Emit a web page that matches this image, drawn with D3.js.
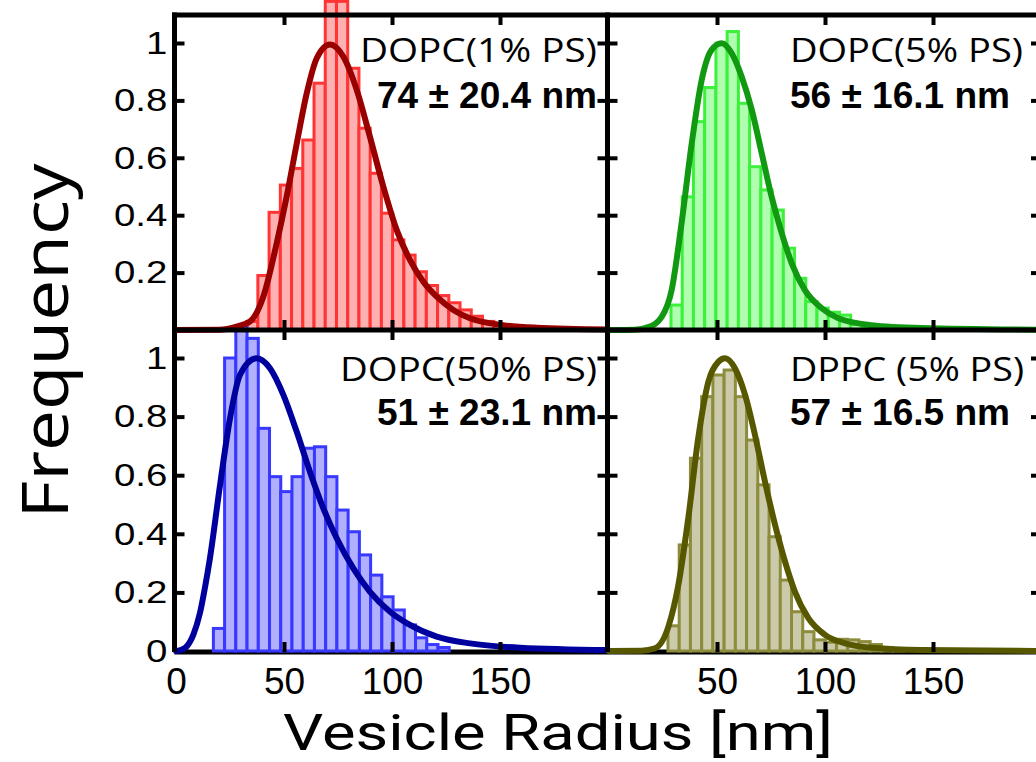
<!DOCTYPE html>
<html>
<head>
<meta charset="utf-8">
<script src="https://cdn.jsdelivr.net/npm/d3@7"></script>
<style>
  body { margin: 0; background: #fff; }
  svg { display: block; }
</style>
</head>
<body>
<svg id="chart" width="1036" height="762"></svg>
<script>
// ---- data ----
var radiusTicks = [0, 50, 100, 150];
var freqTicks = [0, 0.2, 0.4, 0.6, 0.8, 1];
var binWidth = 5.2;

// DOPC (1% PS)
var dopc1Start = 32.7;
var dopc1Freq = [0.03, 0.19, 0.41, 0.505, 0.563, 0.662, 0.86, 1.145, 1.145, 0.912, 0.703, 0.546,
                 0.407, 0.314, 0.261, 0.203, 0.155, 0.12, 0.095, 0.07, 0.048, 0.03, 0.017, 0.008];
var dopc1FitR = [0, 20, 28.1, 34.3, 40.4, 46.6, 51.2, 55.9, 60.5, 65.1, 71.3, 77.5, 83.7, 89.8,
                 96, 102.2, 108.3, 114.5, 120.7, 128.4, 136.1, 151.5, 167, 200];
var dopc1FitF = [0, 0.001, 0.012, 0.03, 0.116, 0.302, 0.464, 0.65, 0.824, 0.946, 0.995, 0.952,
                 0.836, 0.673, 0.499, 0.348, 0.244, 0.168, 0.116, 0.07, 0.041, 0.017, 0.008, 0.002];

// DOPC (5% PS)
var dopc5Start = 28.7;
var dopc5Freq = [0.087, 0.464, 0.726, 0.845, 1.0, 1.04, 0.79, 0.569, 0.488, 0.418, 0.285, 0.18,
                 0.099, 0.076, 0.062, 0.052, 0.02, 0.01];
var dopc5FitR = [0, 12, 18.2, 24.4, 29, 33.6, 38.3, 42.9, 47.5, 52.2, 56.8, 61.4, 66.1, 70.7,
                 75.3, 80, 84.6, 90.7, 98.5, 106.2, 121.6, 144.8, 200];
var dopc5FitF = [0, 0.001, 0.01, 0.046, 0.139, 0.372, 0.65, 0.871, 0.976, 0.999, 0.964, 0.883,
                 0.767, 0.616, 0.464, 0.337, 0.232, 0.139, 0.076, 0.041, 0.017, 0.007, 0.001];

// DOPC (50% PS)
var dopc50Start = 17.3;
var dopc50Freq = [0.077, 1.0, 1.11, 1.067, 0.76, 0.595, 0.544, 0.595, 0.692, 0.697, 0.595, 0.481,
                  0.407, 0.328, 0.259, 0.185, 0.14, 0.089, 0.045, 0.022, 0.012];
var dopc50FitR = [0, 2, 4.5, 8, 11.1, 13.5, 15.7, 20.4, 25, 29.6, 37.3, 43.5, 49.7, 55.9, 62, 68.2,
                  74.4, 82.1, 89.8, 99.1, 108.3, 120.7, 136.1, 159.3, 200];
var dopc50FitF = [0, 0.003, 0.012, 0.055, 0.13, 0.22, 0.316, 0.567, 0.794, 0.942, 0.999, 0.965,
                  0.874, 0.748, 0.612, 0.487, 0.385, 0.282, 0.202, 0.134, 0.089, 0.049, 0.026,
                  0.011, 0.003];

// DPPC (5% PS)
var dppc5Start = 27.3;
var dppc5Freq = [0.086, 0.362, 0.658, 0.868, 0.942, 0.959, 0.868, 0.72, 0.567, 0.39, 0.242, 0.134,
                 0.066, 0.038, 0.03, 0.04, 0.038, 0.032, 0.022, 0.012, 0.006];
var dppc5FitR = [0, 15, 21.3, 27.5, 32.1, 36.7, 41.3, 46, 50.6, 53.7, 58.3, 63, 67.6, 72.2,
                 76.9, 81.5, 86.1, 92.3, 100, 109.3, 121.6, 144.8, 200];
var dppc5FitF = [0, 0.001, 0.009, 0.083, 0.225, 0.453, 0.726, 0.919, 0.987, 0.999, 0.965, 0.874,
                 0.737, 0.578, 0.43, 0.305, 0.202, 0.112, 0.055, 0.026, 0.011, 0.003, 0];

var panelNames = ["DOPC(1% PS)", "DOPC(5% PS)", "DOPC(50% PS)", "DPPC (5% PS)"];
var panelSizes = ["74 \u00b1 20.4 nm", "56 \u00b1 16.1 nm", "51 \u00b1 23.1 nm", "57 \u00b1 16.5 nm"];

// ---- layout / styles ----
var colRange = [[176, 608], [609, 1041]];
var rowRange = [[330, 43], [651, 358]];
var frameX = [174.5, 607.5, 1041];
var frameY = [15, 330, 652];

var styles = [
    { fill: "#ffb0b0", edge: "#ff3535", line: "#990000" },
    { fill: "#b0ffb0", edge: "#3cf03c", line: "#129912" },
    { fill: "#b0b0ff", edge: "#3838ff", line: "#00009e" },
    { fill: "#cbcbac", edge: "#8c8c3c", line: "#575700" }
];
var nameLen = [237, 233, 257, 234];
var nameBase = [62, 381];
var sizeBase = [108, 425];

var panels = [
    { col: 0, row: 0, start: dopc1Start, freq: dopc1Freq, fit: d3.zip(dopc1FitR, dopc1FitF) },
    { col: 1, row: 0, start: dopc5Start, freq: dopc5Freq, fit: d3.zip(dopc5FitR, dopc5FitF) },
    { col: 0, row: 1, start: dopc50Start, freq: dopc50Freq, fit: d3.zip(dopc50FitR, dopc50FitF) },
    { col: 1, row: 1, start: dppc5Start, freq: dppc5Freq, fit: d3.zip(dppc5FitR, dppc5FitF) }
];

var svg = d3.select("#chart");

// bottom border sits under the fit curves
svg.append("line")
    .attr("x1", frameX[0]).attr("x2", frameX[2])
    .attr("y1", frameY[2]).attr("y2", frameY[2])
    .attr("stroke", "#000").attr("stroke-width", 5);

var barLayer = svg.append("g");
var fitLayer = svg.append("g");

panels.forEach(function (p, k) {
    var x = d3.scaleLinear().domain([0, 200]).range(colRange[p.col]);
    var y = d3.scaleLinear().domain([0, 1]).range(rowRange[p.row]);
    p.x = x;
    p.y = y;

    barLayer.append("g")
        .selectAll("rect")
        .data(p.freq)
        .enter().append("rect")
        .attr("x", function (d, i) { return x(p.start + i * binWidth); })
        .attr("width", x(binWidth) - x(0))
        .attr("y", function (d) { return y(d); })
        .attr("height", function (d) { return y(0) - y(d); })
        .attr("fill", styles[k].fill)
        .attr("stroke", styles[k].edge)
        .attr("stroke-width", 3);

    var line = d3.line()
        .x(function (d) { return x(d[0]); })
        .y(function (d) { return y(d[1]); })
        .curve(d3.curveMonotoneX);

    fitLayer.append("path")
        .datum(p.fit)
        .attr("d", line)
        .attr("fill", "none")
        .attr("stroke", styles[k].line)
        .attr("stroke-width", 6)
        .attr("stroke-linecap", "round");
});

// frame
var frame = svg.append("g").attr("stroke", "#000").attr("stroke-width", 5);
[frameY[0], frameY[1]].forEach(function (yy) {
    frame.append("line").attr("x1", frameX[0] - 2.5).attr("x2", frameX[2]).attr("y1", yy).attr("y2", yy);
});
frameX.forEach(function (xx) {
    frame.append("line").attr("x1", xx).attr("x2", xx).attr("y1", frameY[0] - 2.5).attr("y2", frameY[2]);
});

// inward ticks
function styleTicks(g) {
    g.select(".domain").remove();
    g.selectAll(".tick line").attr("stroke", "#000").attr("stroke-width", 4);
}

panels.forEach(function (p) {
    var yTicks = freqTicks.slice(1);
    var xTicks = radiusTicks.slice(1);
    var xl = frameX[p.col], xr = frameX[p.col + 1];
    var yt = frameY[p.row], yb = frameY[p.row + 1];

    svg.append("g").attr("transform", "translate(" + xl + ",0)")
        .call(d3.axisRight(p.y).tickValues(yTicks).tickSize(10).tickFormat(""))
        .call(styleTicks);
    svg.append("g").attr("transform", "translate(" + xr + ",0)")
        .call(d3.axisLeft(p.y).tickValues(yTicks).tickSize(10).tickFormat(""))
        .call(styleTicks);
    svg.append("g").attr("transform", "translate(0," + yt + ")")
        .call(d3.axisBottom(p.x).tickValues(xTicks).tickSize(10).tickFormat(""))
        .call(styleTicks);
    svg.append("g").attr("transform", "translate(0," + yb + ")")
        .call(d3.axisTop(p.x).tickValues(xTicks).tickSize(10).tickFormat(""))
        .call(styleTicks);
});

// tick labels
[0, 1].forEach(function (row) {
    var vals = row === 0 ? freqTicks.slice(1) : freqTicks;
    var g = svg.append("g")
        .attr("transform", "translate(" + frameX[0] + ",0)")
        .call(d3.axisLeft(panels[row * 2].y).tickValues(vals).tickSize(0).tickPadding(6)
            .tickFormat(d3.format("~g")));
    g.select(".domain").remove();
    g.selectAll("text")
        .attr("font-family", "'Liberation Sans', Arial, sans-serif")
        .attr("font-size", 32)
        .attr("fill", "#000")
        .attr("transform", "scale(1.2,1)");
});

[0, 1].forEach(function (col) {
    var vals = col === 0 ? radiusTicks : radiusTicks.slice(1);
    var g = svg.append("g")
        .attr("transform", "translate(0," + frameY[2] + ")")
        .call(d3.axisBottom(panels[2 + col].x).tickValues(vals).tickSize(0).tickPadding(16));
    g.select(".domain").remove();
    g.selectAll("text")
        .attr("font-family", "'Liberation Sans', Arial, sans-serif")
        .attr("font-size", 37)
        .attr("fill", "#000");
});

// panel annotations
panels.forEach(function (p, k) {
    var right = p.col === 0;
    var ax = right ? 597 : 790;
    svg.append("text")
        .attr("x", ax)
        .attr("y", nameBase[p.row])
        .attr("text-anchor", right ? "end" : "start")
        .attr("font-family", "'Open Sans', sans-serif")
        .attr("font-size", 33)
        .attr("textLength", nameLen[k])
        .attr("lengthAdjust", "spacingAndGlyphs")
        .text(panelNames[k]);
    svg.append("text")
        .attr("x", ax)
        .attr("y", sizeBase[p.row])
        .attr("text-anchor", right ? "end" : "start")
        .attr("font-family", "'Liberation Sans', Arial, sans-serif")
        .attr("font-weight", "bold")
        .attr("font-size", 37)
        .attr("textLength", 220)
        .attr("lengthAdjust", "spacingAndGlyphs")
        .text(panelSizes[k]);
});

// axis titles
svg.append("text")
    .attr("transform", "translate(68,341) rotate(-90)")
    .attr("text-anchor", "middle")
    .attr("font-family", "'Open Sans', sans-serif")
    .attr("font-size", 64)
    .attr("textLength", 355)
    .attr("lengthAdjust", "spacingAndGlyphs")
    .text("Frequency");

svg.append("text")
    .attr("x", 558)
    .attr("y", 749.5)
    .attr("text-anchor", "middle")
    .attr("font-family", "Roboto, 'Open Sans', sans-serif")
    .attr("font-size", 50)
    .attr("textLength", 550)
    .attr("lengthAdjust", "spacingAndGlyphs")
    .text("Vesicle Radius [nm]");
</script>
</body>
</html>
